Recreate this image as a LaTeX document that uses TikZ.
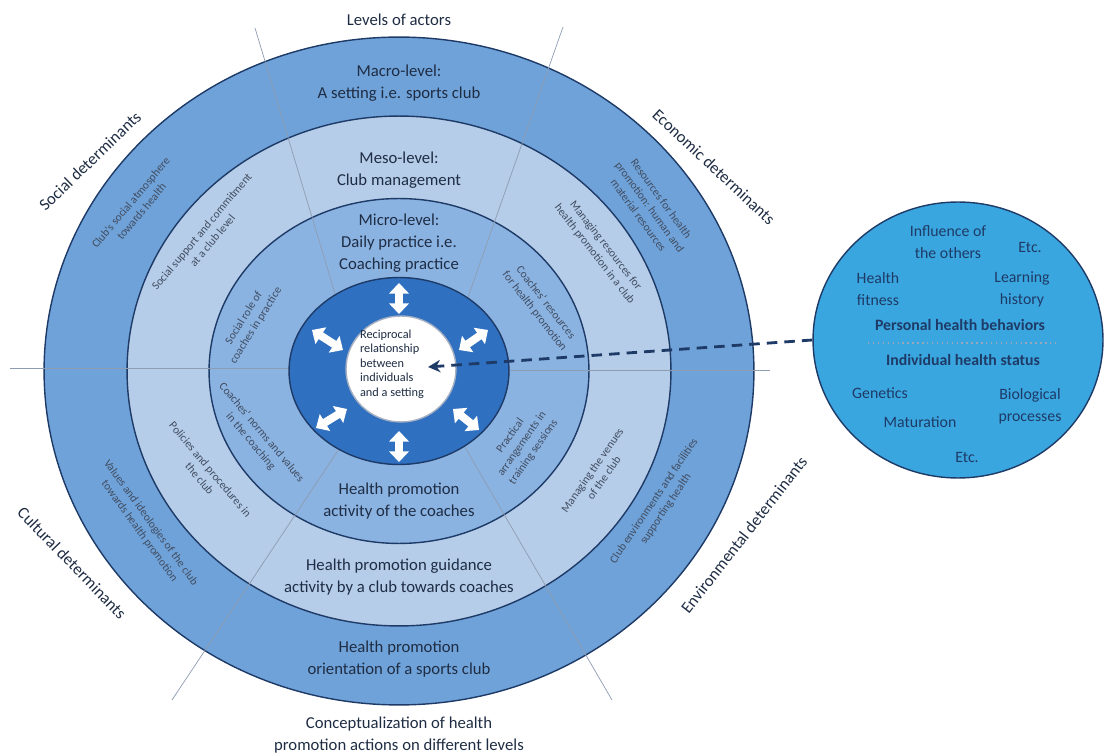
\documentclass[tikz,border=0pt]{standalone}
\usepackage{fontspec}
\setmainfont{Carlito}
\usepackage{tikz}
\usetikzlibrary{positioning,shapes.geometric,arrows.meta}
\definecolor{ringout}{HTML}{6FA2D8}
\definecolor{ringmes}{HTML}{B5CDE9}
\definecolor{ringmic}{HTML}{8AB3E2}
\definecolor{ringcore}{HTML}{2F70C0}
\definecolor{indiv}{HTML}{3AA6DF}
\definecolor{navy}{HTML}{1E3A66}
\definecolor{inktxt}{HTML}{1F2D44}
\tikzset{
  ring/.style={ellipse, draw=navy, line width=0.8pt, inner sep=0pt},
  lvl/.style={align=center, font=\fontsize{9.5}{12.5}\selectfont, text=inktxt},
  det/.style={align=center, inner sep=0.5pt, font=\fontsize{6.5}{8}\selectfont, text=inktxt!85},
  outer/.style={align=center, inner sep=1pt, font=\fontsize{9.5}{12.5}\selectfont, text=inktxt},
  sector/.style={draw=navy!50, line width=0.4pt},
  bone/.style={draw=white, line width=4.5pt, {Triangle[width=11pt,length=6pt]}-{Triangle[width=11pt,length=6pt]}},
  ind/.style={align=center, text=navy, font=\fontsize{9}{12.5}\selectfont}
}

\begin{document}
\begin{tikzpicture}[x=0.02cm, y=-0.02cm]
      \useasboundingbox (0,0) rectangle (1105,756);
      \coordinate (c) at (399,371);
      \node [ring, fill=ringout, minimum width=14.2cm, minimum height=13.36cm] (mac) at (c) {};
      \node [ring, fill=ringmes, minimum width=10.88cm, minimum height=10.2cm] (mes) at (c) {};
      \node [ring, fill=ringmic, minimum width=7.6cm, minimum height=6.9cm] (mic) at (c) {};
      \coordinate (l1) at (255,28);
      \coordinate (l2) at (343,320);
      \coordinate (r1) at (563,27);
      \coordinate (r2) at (460,320);
      \coordinate (l3) at (172,700);
      \coordinate (l4) at (345,440);
      \coordinate (r3) at (612,700);
      \coordinate (r4) at (455,430);
      \coordinate (h1) at (10,368);
      \coordinate (h2) at (300,368);
      \coordinate (h3) at (500,370);
      \coordinate (h4) at (770,370);
      \draw [sector] (l1) -- (l2);
      \draw [sector] (r1) -- (r2);
      \draw [sector] (l3) -- (l4);
      \draw [sector] (r3) -- (r4);
      \draw [sector] (h1) -- (h2);
      \draw [sector] (h3) -- (h4);
      \node [ring, fill=ringcore, minimum width=4.4cm, minimum height=3.74cm] (core) at (c) {};
      \node [ring, fill=white, draw=navy!40, minimum width=2.2cm, minimum height=2.12cm] (ctr) at (401,369) {};
      \draw [bone] (399,283) -- (399,314);
      \draw [bone] (399,431) -- (399,462);
      \draw [bone] (312,330) -- (343,350);
      \draw [bone] (459,350) -- (488,330);
      \draw [bone] (316,428) -- (347,409);
      \draw [bone] (453,409) -- (479,430);
      \node [align=left, font=\fontsize{7}{8.2}\selectfont, text=inktxt] (rel) at (392,364) {Reciprocal\\relationship\\between\\individuals\\and a setting};
      \node [lvl] (t1) at (399,83) {Macro-level:\\A setting i.e. sports club};
      \node [lvl] (t2) at (399,170) {Meso-level:\\Club management};
      \node [lvl] (t3) at (399,243) {Micro-level:\\Daily practice i.e.\\Coaching practice};
      \node [lvl] (b3) at (399,501) {Health promotion\\activity of the coaches};
      \node [lvl] (b2) at (399,577) {Health promotion guidance\\activity by a club towards coaches};
      \node [lvl] (b1) at (399,659) {Health promotion\\orientation of a sports club};
      \node [det, rotate=50] (so) at (136,207) {Club's social atmosphere\\towards health};
      \node [det, rotate=-54] (eo) at (650,207) {Resources for health\\promotion: human and\\material resources};
      \node [det, rotate=-54] (co) at (145,527) {Values and ideologies of the club\\towards health promotion};
      \node [det, rotate=56] (no) at (660,505) {Club environments and facilities\\supporting health};
      \node [det, rotate=50] (sm) at (207,236) {Social support and commitment\\at a club level};
      \node [det, rotate=-52] (em) at (600,250) {Managing resources for\\health promotion in a club};
      \node [det, rotate=-50] (cm) at (205,474) {Policies and procedures in\\the club};
      \node [det, rotate=55] (nm) at (598,474) {Managing the venues\\of the club};
      \node [det, rotate=58] (si) at (250,322) {Social role of\\coaches in practice};
      \node [det, rotate=-52] (ei) at (540,307) {Coaches' resources\\for health promotion};
      \node [det, rotate=-50] (ci) at (256,437) {Coaches' norms and values\\in the coaching};
      \node [det, rotate=55] (ni) at (522,444) {Practical\\arrangements in\\training sessions};
      \node [outer] (lev) [above=5pt of mac] {Levels of actors};
      \node [outer] (cap) [below=5pt of mac] {Conceptualization of health\\promotion actions on different levels};
      \node [outer, rotate=44] (dso) at (90,161) {Social determinants};
      \node [outer, rotate=-43] (dec) at (714,167) {Economic determinants};
      \node [outer, rotate=-46] (dcu) at (72,563) {Cultural determinants};
      \node [outer, rotate=52] (den) at (744,535) {Environmental determinants};
      \node [ring, fill=indiv, minimum width=5.8cm, minimum height=5.52cm] (ind) at (958,340) {};
      \draw [dotted, navy!45, line width=0.8pt] (868,343) -- (1055,343);
      \draw [navy, line width=1.6pt, dash pattern=on 6pt off 4pt, -{Stealth[length=7pt,width=7pt]}] (ind.west) -- (428,367);
      \node [ind] (f1) at (948,242) {Influence of\\the others};
      \node [ind] (f2) at (1030,247) {Etc.};
      \node [ind] (f3) at (878,289) {Health\\fitness};
      \node [ind] (f4) at (1022,289) {Learning\\history};
      \node [ind, font=\fontsize{9}{12.5}\selectfont\bfseries] (f5) at (960,325) {Personal health behaviors};
      \node [ind, font=\fontsize{9}{12.5}\selectfont\bfseries] (f6) at (963,360) {Individual health status};
      \node [ind] (f7) at (880,393) {Genetics};
      \node [ind] (f8) at (1030,406) {Biological\\processes};
      \node [ind] (f9) at (920,422) {Maturation};
      \node [ind] (f10) at (967,457) {Etc.};
\end{tikzpicture}
\end{document}
